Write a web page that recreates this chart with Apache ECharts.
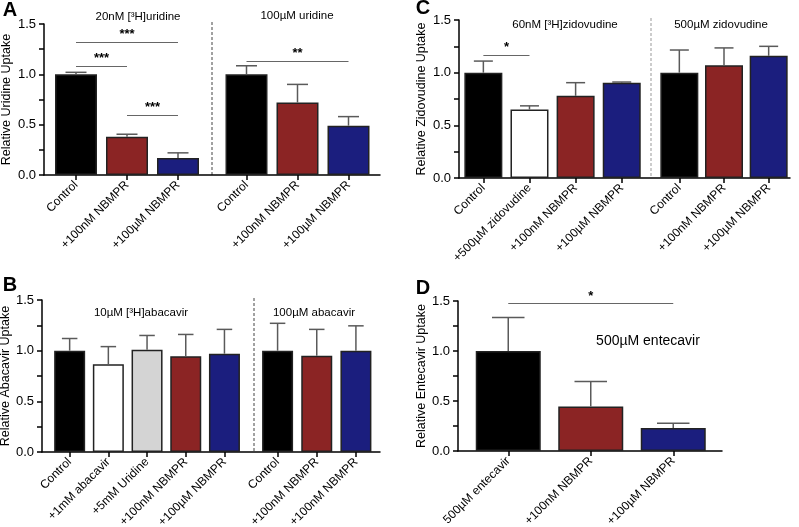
<!DOCTYPE html>
<html>
<head>
<meta charset="utf-8">
<script src="https://cdn.jsdelivr.net/npm/echarts@6/dist/echarts.min.js"></script>
<style>
  html, body { margin: 0; padding: 0; background: #fff; }
  #main { width: 799px; height: 527px; }
</style>
</head>
<body>
<div id="main"></div>
<script>
// y轴刻度（四个面板相同）
const yTicks = [0, 0.5, 1.0, 1.5]

// A: uridine
const catsA1 = ['Control', '+100nM NBMPR', '+100µM NBMPR']
const meanA1 = [1.0, 0.38, 0.17]
const sdA1 = [0.02, 0.025, 0.05]
const catsA2 = ['Control', '+100nM NBMPR', '+100µM NBMPR']
const meanA2 = [1.0, 0.72, 0.49]
const sdA2 = [0.085, 0.18, 0.09]

// B: abacavir
const catsB1 = ['Control', '+1mM abacavir', '+5mM Uridine', '+100nM NBMPR', '+100µM NBMPR']
const meanB1 = [1.0, 0.865, 1.01, 0.945, 0.97]
const sdB1 = [0.12, 0.175, 0.14, 0.215, 0.24]
const catsB2 = ['Control', '+100nM NBMPR', '+100nM NBMPR']
const meanB2 = [1.0, 0.95, 1.0]
const sdB2 = [0.27, 0.26, 0.245]

// C: zidovudine
const catsC1 = ['Control', '+500µM zidovudine', '+100nM NBMPR', '+100µM NBMPR']
const meanC1 = [1.0, 0.65, 0.78, 0.905]
const sdC1 = [0.11, 0.035, 0.125, 0.006]
const catsC2 = ['Control', '+100nM NBMPR', '+100µM NBMPR']
const meanC2 = [1.0, 1.07, 1.16]
const sdC2 = [0.215, 0.165, 0.09]

// D: entecavir
const catsD = ['500µM entecavir', '+100nM NBMPR', '+100µM NBMPR']
const meanD = [1.0, 0.445, 0.23]
const sdD = [0.335, 0.25, 0.048]

// 显著性标注 (起止类别下标, 高度, 星号)
const sigA1 = [[0, 2, 1.32, '***'], [0, 1, 1.083, '***'], [1, 2, 0.596, '***']]
const sigA2 = [[0, 2, 1.132, '**']]
const sigC1 = [[0, 1, 1.168, '*']]
const sigD = [[0, 2, 1.473, '*']]

const BLACK = '#000000'
const RED = '#8b2424'
const BLUE = '#1b1e7e'
const GREY = '#d4d4d4'
const WHITE = '#ffffff'
const FONT = 'Liberation Sans, Arial, Helvetica, sans-serif'

const grids = []
const xAxes = []
const yAxes = []
const series = []

// 固定网格位置，不让标签把网格挤小
function makeGrid (box) {
  return Object.assign({ containLabel: false, outerBoundsMode: 'none' }, box)
}

// 外框：画y轴和x轴基线
function addFrame (box, yName, nameGap) {
  const i = grids.length
  grids.push(makeGrid(box))
  const line = { color: '#000', width: 1.5 }
  xAxes.push({
    gridIndex: i, type: 'value', min: 0, max: 1,
    axisLine: { show: true, lineStyle: line },
    axisTick: { show: false }, axisLabel: { show: false }, splitLine: { show: false }
  })
  yAxes.push({
    gridIndex: i, type: 'value',
    min: yTicks[0], max: yTicks[yTicks.length - 1], interval: yTicks[1] - yTicks[0],
    name: yName, nameLocation: 'middle', nameGap: nameGap,
    nameTextStyle: { fontSize: 12.5, color: '#000', fontFamily: FONT },
    axisLine: { show: true, lineStyle: line },
    axisTick: { show: true, length: 5, lineStyle: line },
    minorTick: { show: true, splitNumber: 2, length: 5, lineStyle: line },
    axisLabel: { formatter: v => v.toFixed(1), fontSize: 13, color: '#000', margin: 8, fontFamily: FONT },
    splitLine: { show: false }
  })
}

// 误差线（只画上半部分）
function errorBar (barW) {
  return function (params, api) {
    const base = api.coord([api.value(0), api.value(1)])
    const top = api.coord([api.value(0), api.value(2)])
    const half = barW / 4
    const style = { stroke: '#5a5a5a', lineWidth: 1.5 }
    return {
      type: 'group',
      children: [
        { type: 'line', shape: { x1: base[0], y1: base[1], x2: top[0], y2: top[1] }, style: style },
        { type: 'line', shape: { x1: top[0] - half, y1: top[1], x2: top[0] + half, y2: top[1] }, style: style }
      ]
    }
  }
}

function addGroup (box, cats, means, sds, colors, barW, sig) {
  const i = grids.length
  grids.push(makeGrid(box))
  xAxes.push({
    gridIndex: i, type: 'category', data: cats,
    axisLine: { show: false },
    axisTick: { show: true, alignWithLabel: true, length: 5, lineStyle: { color: '#000', width: 1.5 } },
    axisLabel: { rotate: 45, interval: 0, fontSize: 12, color: '#000', margin: 8, fontFamily: FONT }
  })
  yAxes.push({ gridIndex: i, type: 'value', min: 0, max: 1.5, show: false })
  const bar = {
    type: 'bar', xAxisIndex: i, yAxisIndex: i, barWidth: barW, z: 2,
    itemStyle: { borderColor: '#222', borderWidth: 1.5 },
    data: means.map((v, k) => ({ value: v, itemStyle: { color: colors[k] } }))
  }
  if (sig) {
    bar.markLine = {
      silent: true,
      symbol: ['none', 'none'],
      lineStyle: { color: '#666', width: 1, type: 'solid' },
      label: { show: true, position: 'middle', formatter: '{b}', fontSize: 13, fontWeight: 'bold', color: '#000', distance: 1 },
      data: sig.map(s => [{ name: s[3], coord: [s[0], s[2]] }, { coord: [s[1], s[2]] }])
    }
  }
  series.push(bar)
  series.push({
    type: 'custom', xAxisIndex: i, yAxisIndex: i, z: 3,
    renderItem: errorBar(barW),
    data: means.map((v, k) => [k, v, v + sds[k]])
  })
}

// A
addFrame({ left: 44, top: 24, width: 336, height: 151 }, 'Relative Uridine Uptake', 31)
addGroup({ left: 50.5, top: 24, width: 153, height: 151 }, catsA1, meanA1, sdA1, [BLACK, RED, BLUE], 42, sigA1)
addGroup({ left: 221, top: 24, width: 153, height: 151 }, catsA2, meanA2, sdA2, [BLACK, RED, BLUE], 42, sigA2)
// B
addFrame({ left: 42, top: 300, width: 338, height: 152 }, 'Relative Abacavir Uptake', 29)
addGroup({ left: 50.3, top: 300, width: 193.5, height: 152 }, catsB1, meanB1, sdB1, [BLACK, WHITE, GREY, RED, BLUE], 31)
addGroup({ left: 258, top: 300, width: 117.5, height: 152 }, catsB2, meanB2, sdB2, [BLACK, RED, BLUE], 31)
// C
addFrame({ left: 459, top: 20, width: 331, height: 158 }, 'Relative Zidovudine Uptake', 31)
addGroup({ left: 460.3, top: 20, width: 184.5, height: 158 }, catsC1, meanC1, sdC1, [BLACK, WHITE, RED, BLUE], 38, sigC1)
addGroup({ left: 657, top: 20, width: 134, height: 158 }, catsC2, meanC2, sdC2, [BLACK, RED, BLUE], 38)
// D
addFrame({ left: 458, top: 301, width: 264, height: 150 }, 'Relative Entecavir Uptake', 29)
addGroup({ left: 467, top: 301, width: 247.5, height: 150 }, catsD, meanD, sdD, [BLACK, RED, BLUE], 65, sigD)

function txt (x, y, text, size, weight) {
  return {
    type: 'text', x: x, y: y, silent: true,
    style: { text: text, fill: '#000', font: (weight || 'normal') + ' ' + size + 'px ' + FONT, align: 'center', verticalAlign: 'middle' }
  }
}
function dash (x, y1, y2, color) {
  return { type: 'line', silent: true, shape: { x1: x, y1: y1, x2: x, y2: y2 }, style: { stroke: color, lineWidth: 1, lineDash: [3, 2] } }
}

const graphics = [
  txt(10, 10, 'A', 20, 'bold'),
  txt(10, 285, 'B', 20, 'bold'),
  txt(423, 8, 'C', 20, 'bold'),
  txt(423, 288, 'D', 20, 'bold'),
  txt(138, 17, '20nM [³H]uridine', 11.5),
  txt(297, 16, '100µM uridine', 11.5),
  txt(565, 25, '60nM [³H]zidovudine', 11.5),
  txt(721, 25, '500µM zidovudine', 11.5),
  txt(141, 313, '10µM [³H]abacavir', 11.5),
  txt(314, 313, '100µM abacavir', 11.5),
  txt(648, 341, '500µM entecavir', 14),
  dash(212, 22, 175, '#444'),
  dash(254, 298, 452, '#444'),
  dash(651, 18, 178, '#999')
]

const chart = echarts.init(document.getElementById('main'))
chart.setOption({
  animation: false,
  textStyle: { fontFamily: FONT },
  grid: grids,
  xAxis: xAxes,
  yAxis: yAxes,
  series: series,
  graphic: graphics
})
</script>
</body>
</html>
